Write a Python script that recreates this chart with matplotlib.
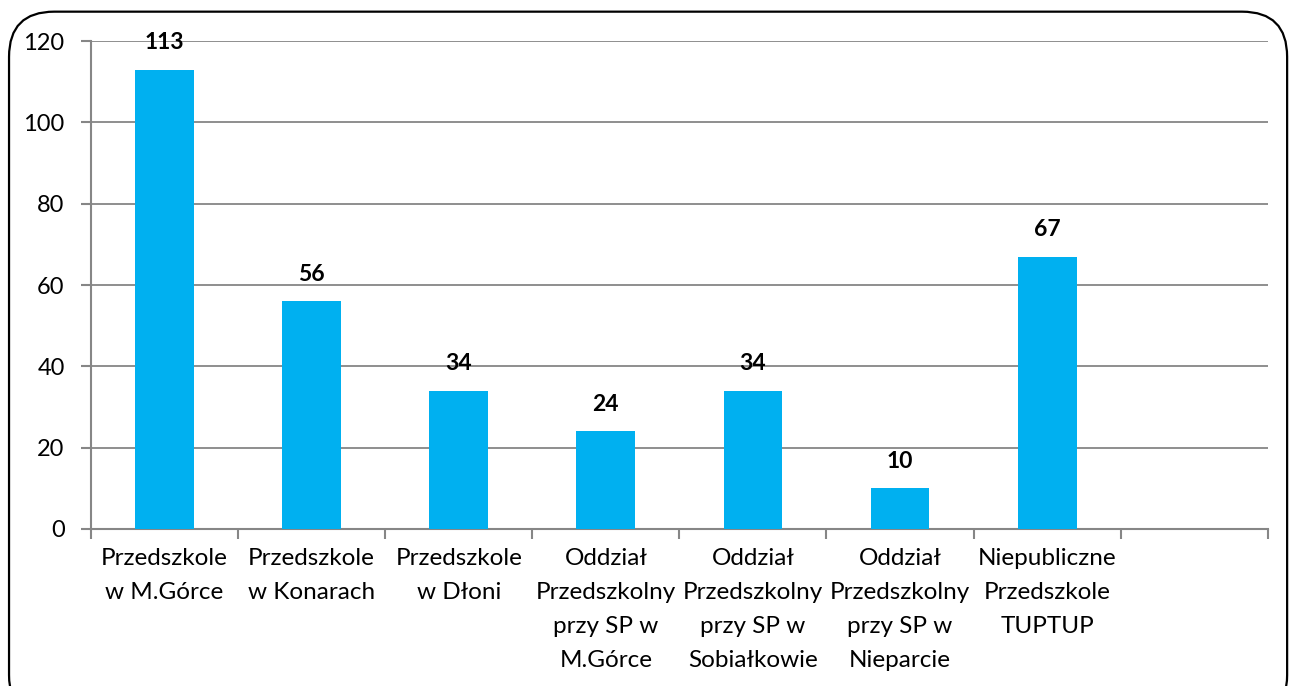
import matplotlib.pyplot as plt
from matplotlib.patches import FancyBboxPatch

categories = ['Przedszkole\nw M.Górce', 'Przedszkole\nw Konarach', 'Przedszkole\nw Dłoni',
              'Oddział\nPrzedszkolny\nprzy SP w\nM.Górce', 'Oddział\nPrzedszkolny\nprzy SP w\nSobiałkowie',
              'Oddział\nPrzedszkolny\nprzy SP w\nNieparcie', 'Niepubliczne\nPrzedszkole\nTUPTUP', '']
values = [113, 56, 34, 24, 34, 10, 67, None]
y_ticks = [0, 20, 40, 60, 80, 100, 120]

plt.rcParams['font.family'] = ['Lato', 'DejaVu Sans']

fig = plt.figure(figsize=(12.91, 6.86), dpi=100)
ax = fig.add_axes([0.0705, 0.229, 0.9115, 0.711])

# rounded frame around the chart
frame = FancyBboxPatch((0.007, -0.05), 0.99, 1.033, boxstyle='round,pad=0,rounding_size=0.035',
                       transform=fig.transFigure, fill=False, edgecolor='black', linewidth=1.6,
                       mutation_aspect=1291 / 686)
fig.patches.append(frame)

xs = list(range(len(categories)))
for x, v in zip(xs, values):
    if v is None:
        continue
    ax.bar(x, v, width=0.4, color='#00B0F0', zorder=3)
    ax.text(x, v + 4.0, str(v), ha='center', va='bottom', fontsize=16.5, fontweight='bold')

ax.set_xlim(-0.5, len(categories) - 0.5)
ax.set_ylim(0, 120)
ax.set_yticks(y_ticks)
ax.tick_params(axis='y', labelsize=17, length=7, width=1.5, color='#868686', pad=12)
ax.set_xticks(xs)
ax.set_xticklabels(categories, fontsize=17.5, linespacing=1.75)
ax.tick_params(axis='x', length=0, pad=14)
ax.set_xticks([x - 0.5 for x in range(len(categories) + 1)], minor=True)
ax.tick_params(axis='x', which='minor', length=7, width=1.5, color='#868686')

ax.grid(axis='y', color='#868686', linewidth=1.3, zorder=0)
for s in ['top', 'right']:
    ax.spines[s].set_visible(False)
for s in ['left', 'bottom']:
    ax.spines[s].set_color('#868686')
    ax.spines[s].set_linewidth(1.5)

fig.savefig('out.png', dpi=100)
